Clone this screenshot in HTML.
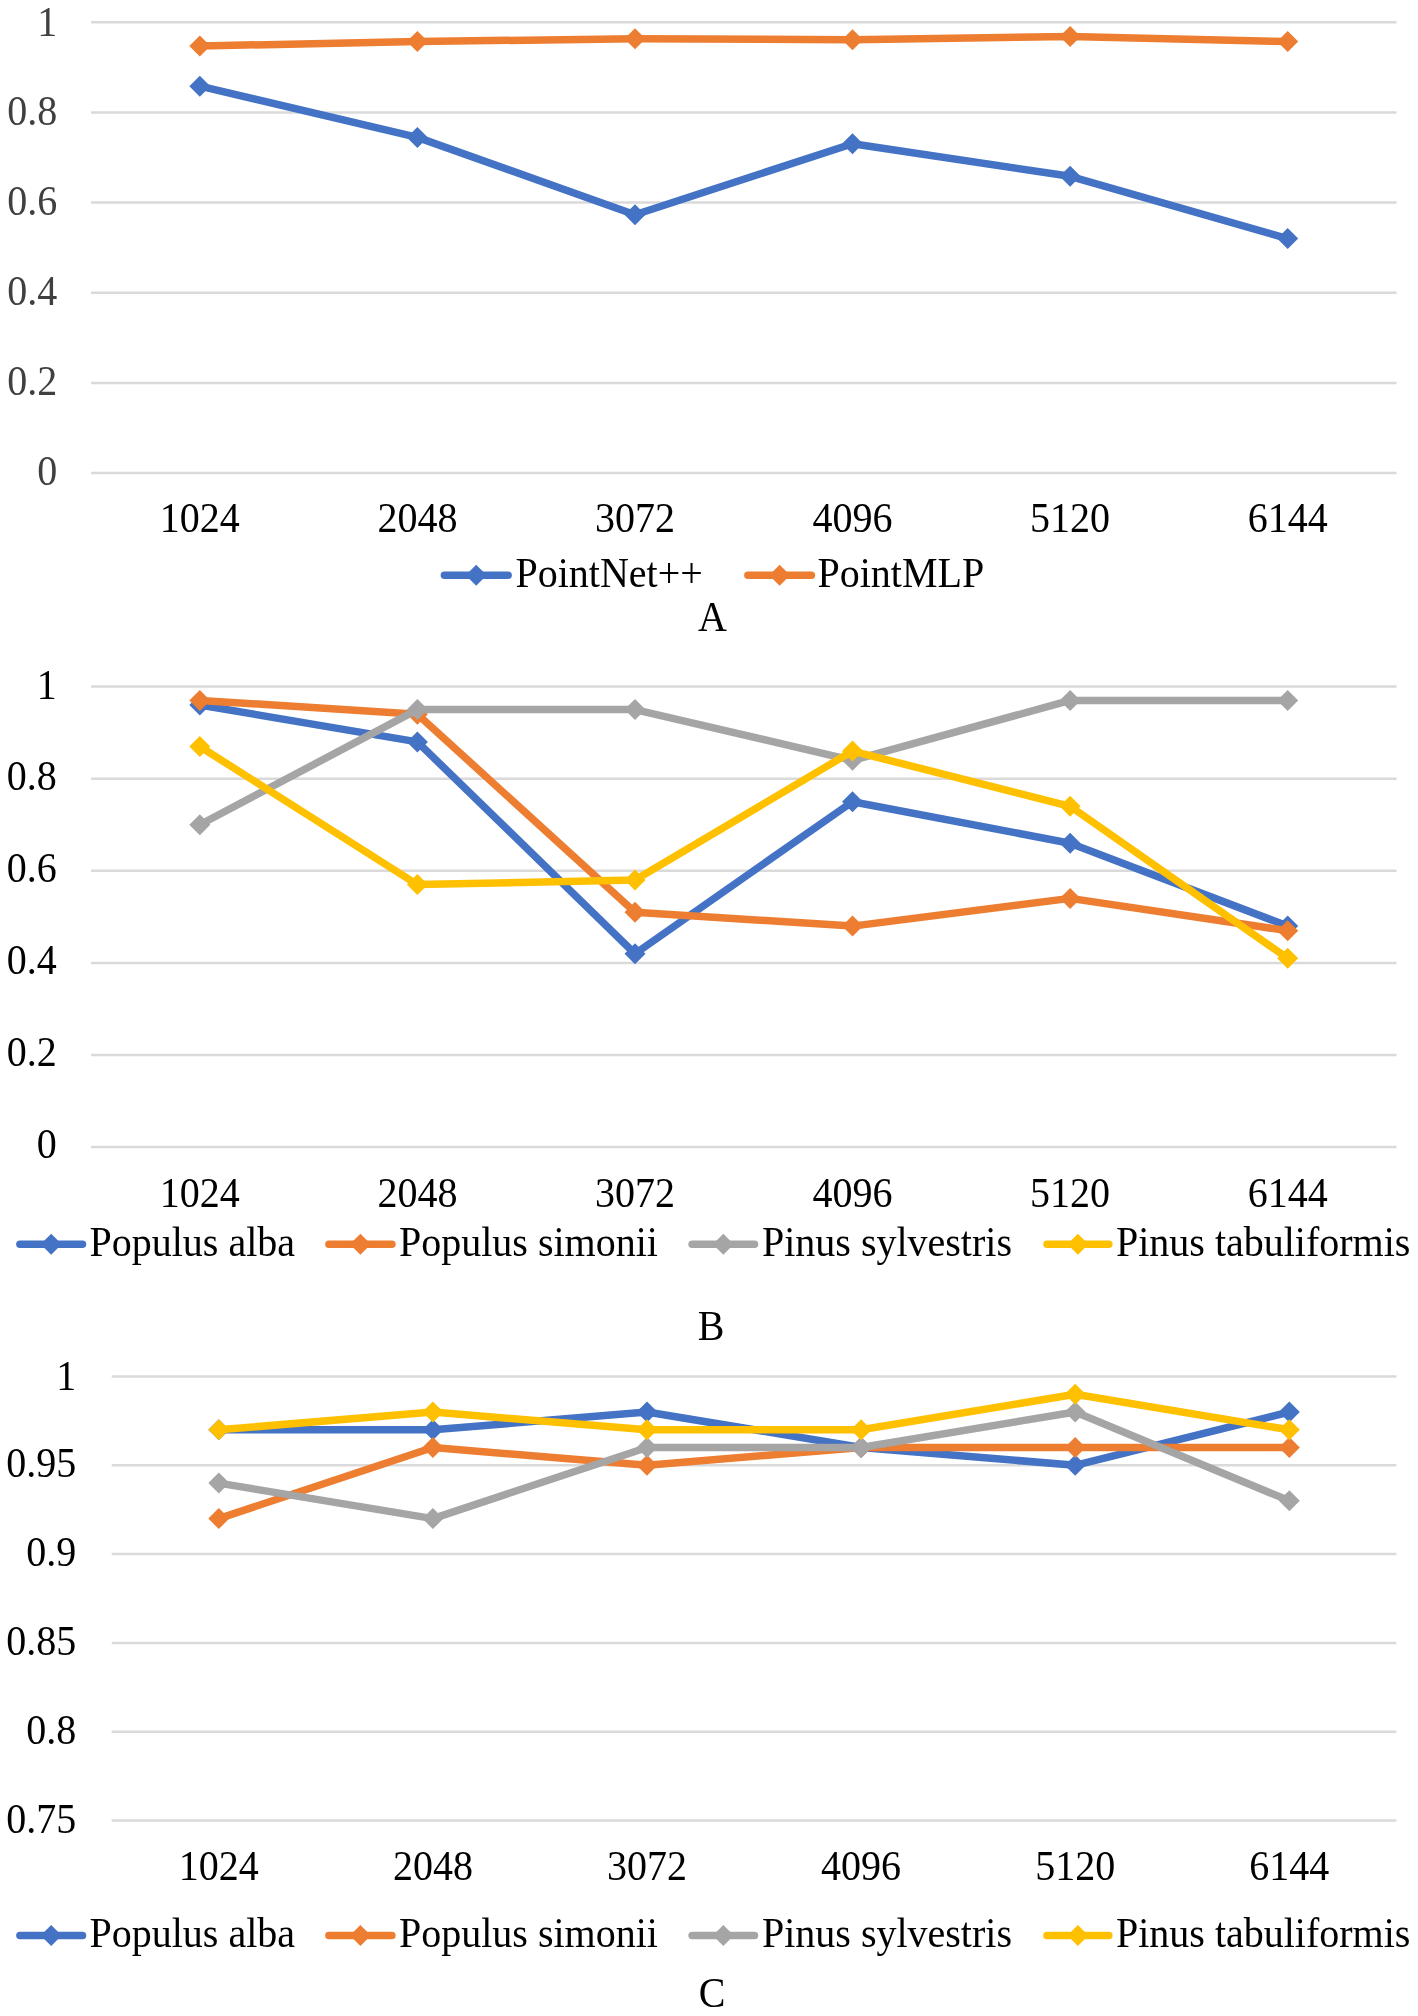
<!DOCTYPE html>
<html><head><meta charset="utf-8"><title>Chart</title>
<style>
html,body{margin:0;padding:0;background:#fff;}
body{width:1418px;height:2016px;overflow:hidden;}
svg{display:block;will-change:transform;}
text{font-family:"Liberation Serif",serif;font-size:40px;fill:#000;}
</style></head><body>
<svg width="1418" height="2016" viewBox="0 0 1418 2016">
<rect width="1418" height="2016" fill="#fff"/>
<line x1="91" y1="22.2" x2="1396.5" y2="22.2" stroke="#DADADA" stroke-width="2.5"/>
<text transform="translate(57.3 36.2) scale(1 1.05)" text-anchor="end" style="fill:#404040">1</text>
<line x1="91" y1="112.4" x2="1396.5" y2="112.4" stroke="#DADADA" stroke-width="2.5"/>
<text transform="translate(57.3 124.6) scale(1 1.05)" text-anchor="end" style="fill:#404040">0.8</text>
<line x1="91" y1="202.6" x2="1396.5" y2="202.6" stroke="#DADADA" stroke-width="2.5"/>
<text transform="translate(57.3 214.8) scale(1 1.05)" text-anchor="end" style="fill:#404040">0.6</text>
<line x1="91" y1="292.7" x2="1396.5" y2="292.7" stroke="#DADADA" stroke-width="2.5"/>
<text transform="translate(57.3 304.9) scale(1 1.05)" text-anchor="end" style="fill:#404040">0.4</text>
<line x1="91" y1="382.9" x2="1396.5" y2="382.9" stroke="#DADADA" stroke-width="2.5"/>
<text transform="translate(57.3 395.1) scale(1 1.05)" text-anchor="end" style="fill:#404040">0.2</text>
<line x1="91" y1="473.1" x2="1396.5" y2="473.1" stroke="#DADADA" stroke-width="2.5"/>
<text transform="translate(57.3 485.3) scale(1 1.05)" text-anchor="end" style="fill:#404040">0</text>
<text transform="translate(199.8 531.5) scale(1 1.05)" text-anchor="middle">1024</text>
<text transform="translate(417.4 531.5) scale(1 1.05)" text-anchor="middle">2048</text>
<text transform="translate(635.0 531.5) scale(1 1.05)" text-anchor="middle">3072</text>
<text transform="translate(852.5 531.5) scale(1 1.05)" text-anchor="middle">4096</text>
<text transform="translate(1070.1 531.5) scale(1 1.05)" text-anchor="middle">5120</text>
<text transform="translate(1287.7 531.5) scale(1 1.05)" text-anchor="middle">6144</text>
<polyline points="199.8,86.2 417.4,137.4 635.0,214.7 852.5,143.8 1070.1,176.3 1287.7,238.6" fill="none" stroke="#4472C4" stroke-width="7.5" stroke-linejoin="round" stroke-linecap="round"/><path d="M199.8 75.7L210.3 86.2L199.8 96.7L189.3 86.2Z" fill="#4472C4"/><path d="M417.4 126.9L427.9 137.4L417.4 147.9L406.9 137.4Z" fill="#4472C4"/><path d="M635.0 204.2L645.5 214.7L635.0 225.2L624.5 214.7Z" fill="#4472C4"/><path d="M852.5 133.3L863.0 143.8L852.5 154.3L842.0 143.8Z" fill="#4472C4"/><path d="M1070.1 165.8L1080.6 176.3L1070.1 186.8L1059.6 176.3Z" fill="#4472C4"/><path d="M1287.7 228.1L1298.2 238.6L1287.7 249.1L1277.2 238.6Z" fill="#4472C4"/>
<polyline points="199.8,46.0 417.4,41.6 635.0,38.7 852.5,39.8 1070.1,36.4 1287.7,41.6" fill="none" stroke="#ED7D31" stroke-width="7.5" stroke-linejoin="round" stroke-linecap="round"/><path d="M199.8 35.5L210.3 46.0L199.8 56.5L189.3 46.0Z" fill="#ED7D31"/><path d="M417.4 31.1L427.9 41.6L417.4 52.1L406.9 41.6Z" fill="#ED7D31"/><path d="M635.0 28.2L645.5 38.7L635.0 49.2L624.5 38.7Z" fill="#ED7D31"/><path d="M852.5 29.3L863.0 39.8L852.5 50.3L842.0 39.8Z" fill="#ED7D31"/><path d="M1070.1 25.9L1080.6 36.4L1070.1 46.9L1059.6 36.4Z" fill="#ED7D31"/><path d="M1287.7 31.1L1298.2 41.6L1287.7 52.1L1277.2 41.6Z" fill="#ED7D31"/>
<line x1="444.4" y1="575.2" x2="508.1" y2="575.2" stroke="#4472C4" stroke-width="7.5" stroke-linecap="round"/><path d="M476.2 564.7L486.7 575.2L476.2 585.7L465.7 575.2Z" fill="#4472C4"/><text transform="translate(515.5 586.8) scale(1 1.05)">PointNet++</text>
<line x1="747.9" y1="575.2" x2="811.4" y2="575.2" stroke="#ED7D31" stroke-width="7.5" stroke-linecap="round"/><path d="M779.6 564.7L790.1 575.2L779.6 585.7L769.1 575.2Z" fill="#ED7D31"/><text transform="translate(817.5 586.8) scale(1 1.05)">PointMLP</text>
<text transform="translate(712.5 630.6) scale(1 1.05)" text-anchor="middle">A</text>
<line x1="91" y1="686.6" x2="1396.5" y2="686.6" stroke="#DADADA" stroke-width="2.5"/>
<text transform="translate(56.8 698.5) scale(1 1.05)" text-anchor="end">1</text>
<line x1="91" y1="778.7" x2="1396.5" y2="778.7" stroke="#DADADA" stroke-width="2.5"/>
<text transform="translate(56.8 790.0) scale(1 1.05)" text-anchor="end">0.8</text>
<line x1="91" y1="870.8" x2="1396.5" y2="870.8" stroke="#DADADA" stroke-width="2.5"/>
<text transform="translate(56.8 882.1) scale(1 1.05)" text-anchor="end">0.6</text>
<line x1="91" y1="962.9" x2="1396.5" y2="962.9" stroke="#DADADA" stroke-width="2.5"/>
<text transform="translate(56.8 974.2) scale(1 1.05)" text-anchor="end">0.4</text>
<line x1="91" y1="1055.0" x2="1396.5" y2="1055.0" stroke="#DADADA" stroke-width="2.5"/>
<text transform="translate(56.8 1066.3) scale(1 1.05)" text-anchor="end">0.2</text>
<line x1="91" y1="1147.1" x2="1396.5" y2="1147.1" stroke="#DADADA" stroke-width="2.5"/>
<text transform="translate(56.8 1158.4) scale(1 1.05)" text-anchor="end">0</text>
<text transform="translate(199.8 1206.5) scale(1 1.05)" text-anchor="middle">1024</text>
<text transform="translate(417.4 1206.5) scale(1 1.05)" text-anchor="middle">2048</text>
<text transform="translate(635.0 1206.5) scale(1 1.05)" text-anchor="middle">3072</text>
<text transform="translate(852.5 1206.5) scale(1 1.05)" text-anchor="middle">4096</text>
<text transform="translate(1070.1 1206.5) scale(1 1.05)" text-anchor="middle">5120</text>
<text transform="translate(1287.7 1206.5) scale(1 1.05)" text-anchor="middle">6144</text>
<polyline points="199.8,705.0 417.4,741.9 635.0,953.7 852.5,801.7 1070.1,843.2 1287.7,926.1" fill="none" stroke="#4472C4" stroke-width="7.5" stroke-linejoin="round" stroke-linecap="round"/><path d="M199.8 694.5L210.3 705.0L199.8 715.5L189.3 705.0Z" fill="#4472C4"/><path d="M417.4 731.4L427.9 741.9L417.4 752.4L406.9 741.9Z" fill="#4472C4"/><path d="M635.0 943.2L645.5 953.7L635.0 964.2L624.5 953.7Z" fill="#4472C4"/><path d="M852.5 791.2L863.0 801.7L852.5 812.2L842.0 801.7Z" fill="#4472C4"/><path d="M1070.1 832.7L1080.6 843.2L1070.1 853.7L1059.6 843.2Z" fill="#4472C4"/><path d="M1287.7 915.6L1298.2 926.1L1287.7 936.6L1277.2 926.1Z" fill="#4472C4"/>
<polyline points="199.8,700.4 417.4,714.2 635.0,912.2 852.5,926.1 1070.1,898.4 1287.7,930.7" fill="none" stroke="#ED7D31" stroke-width="7.5" stroke-linejoin="round" stroke-linecap="round"/><path d="M199.8 689.9L210.3 700.4L199.8 710.9L189.3 700.4Z" fill="#ED7D31"/><path d="M417.4 703.7L427.9 714.2L417.4 724.7L406.9 714.2Z" fill="#ED7D31"/><path d="M635.0 901.7L645.5 912.2L635.0 922.7L624.5 912.2Z" fill="#ED7D31"/><path d="M852.5 915.6L863.0 926.1L852.5 936.6L842.0 926.1Z" fill="#ED7D31"/><path d="M1070.1 887.9L1080.6 898.4L1070.1 908.9L1059.6 898.4Z" fill="#ED7D31"/><path d="M1287.7 920.2L1298.2 930.7L1287.7 941.2L1277.2 930.7Z" fill="#ED7D31"/>
<polyline points="199.8,824.8 417.4,709.6 635.0,709.6 852.5,760.3 1070.1,700.4 1287.7,700.4" fill="none" stroke="#A5A5A5" stroke-width="7.5" stroke-linejoin="round" stroke-linecap="round"/><path d="M199.8 814.2L210.3 824.8L199.8 835.2L189.3 824.8Z" fill="#A5A5A5"/><path d="M417.4 699.1L427.9 709.6L417.4 720.1L406.9 709.6Z" fill="#A5A5A5"/><path d="M635.0 699.1L645.5 709.6L635.0 720.1L624.5 709.6Z" fill="#A5A5A5"/><path d="M852.5 749.8L863.0 760.3L852.5 770.8L842.0 760.3Z" fill="#A5A5A5"/><path d="M1070.1 689.9L1080.6 700.4L1070.1 710.9L1059.6 700.4Z" fill="#A5A5A5"/><path d="M1287.7 689.9L1298.2 700.4L1287.7 710.9L1277.2 700.4Z" fill="#A5A5A5"/>
<polyline points="199.8,746.5 417.4,884.6 635.0,880.0 852.5,751.1 1070.1,806.3 1287.7,958.3" fill="none" stroke="#FFC000" stroke-width="7.5" stroke-linejoin="round" stroke-linecap="round"/><path d="M199.8 736.0L210.3 746.5L199.8 757.0L189.3 746.5Z" fill="#FFC000"/><path d="M417.4 874.1L427.9 884.6L417.4 895.1L406.9 884.6Z" fill="#FFC000"/><path d="M635.0 869.5L645.5 880.0L635.0 890.5L624.5 880.0Z" fill="#FFC000"/><path d="M852.5 740.6L863.0 751.1L852.5 761.6L842.0 751.1Z" fill="#FFC000"/><path d="M1070.1 795.8L1080.6 806.3L1070.1 816.8L1059.6 806.3Z" fill="#FFC000"/><path d="M1287.7 947.8L1298.2 958.3L1287.7 968.8L1277.2 958.3Z" fill="#FFC000"/>
<line x1="19.9" y1="1244.3" x2="82.5" y2="1244.3" stroke="#4472C4" stroke-width="7.5" stroke-linecap="round"/><path d="M51.2 1233.8L61.7 1244.3L51.2 1254.8L40.7 1244.3Z" fill="#4472C4"/><text transform="translate(89.5 1256.3) scale(1 1.05)">Populus alba</text>
<line x1="328.9" y1="1244.3" x2="391.9" y2="1244.3" stroke="#ED7D31" stroke-width="7.5" stroke-linecap="round"/><path d="M360.4 1233.8L370.9 1244.3L360.4 1254.8L349.9 1244.3Z" fill="#ED7D31"/><text transform="translate(399.0 1256.3) scale(1 1.05)">Populus simonii</text>
<line x1="692.1" y1="1244.3" x2="754.5" y2="1244.3" stroke="#A5A5A5" stroke-width="7.5" stroke-linecap="round"/><path d="M723.3 1233.8L733.8 1244.3L723.3 1254.8L712.8 1244.3Z" fill="#A5A5A5"/><text transform="translate(762.0 1256.3) scale(1 1.05)">Pinus sylvestris</text>
<line x1="1047.0" y1="1244.3" x2="1108.8" y2="1244.3" stroke="#FFC000" stroke-width="7.5" stroke-linecap="round"/><path d="M1077.9 1233.8L1088.4 1244.3L1077.9 1254.8L1067.4 1244.3Z" fill="#FFC000"/><text transform="translate(1116.0 1256.3) scale(1 1.05)">Pinus tabuliformis</text>
<text transform="translate(711.0 1339.9) scale(1 1.05)" text-anchor="middle">B</text>
<line x1="111.7" y1="1376.5" x2="1396.4" y2="1376.5" stroke="#DADADA" stroke-width="2.5"/>
<text transform="translate(76.3 1389.7) scale(1 1.05)" text-anchor="end">1</text>
<line x1="111.7" y1="1465.3" x2="1396.4" y2="1465.3" stroke="#DADADA" stroke-width="2.5"/>
<text transform="translate(76.3 1477.3) scale(1 1.05)" text-anchor="end">0.95</text>
<line x1="111.7" y1="1554.1" x2="1396.4" y2="1554.1" stroke="#DADADA" stroke-width="2.5"/>
<text transform="translate(76.3 1566.1) scale(1 1.05)" text-anchor="end">0.9</text>
<line x1="111.7" y1="1642.9" x2="1396.4" y2="1642.9" stroke="#DADADA" stroke-width="2.5"/>
<text transform="translate(76.3 1654.9) scale(1 1.05)" text-anchor="end">0.85</text>
<line x1="111.7" y1="1731.7" x2="1396.4" y2="1731.7" stroke="#DADADA" stroke-width="2.5"/>
<text transform="translate(76.3 1743.7) scale(1 1.05)" text-anchor="end">0.8</text>
<line x1="111.7" y1="1820.5" x2="1396.4" y2="1820.5" stroke="#DADADA" stroke-width="2.5"/>
<text transform="translate(76.3 1832.5) scale(1 1.05)" text-anchor="end">0.75</text>
<text transform="translate(218.8 1880.3) scale(1 1.05)" text-anchor="middle">1024</text>
<text transform="translate(432.9 1880.3) scale(1 1.05)" text-anchor="middle">2048</text>
<text transform="translate(647.0 1880.3) scale(1 1.05)" text-anchor="middle">3072</text>
<text transform="translate(861.1 1880.3) scale(1 1.05)" text-anchor="middle">4096</text>
<text transform="translate(1075.2 1880.3) scale(1 1.05)" text-anchor="middle">5120</text>
<text transform="translate(1289.3 1880.3) scale(1 1.05)" text-anchor="middle">6144</text>
<polyline points="218.8,1429.8 432.9,1429.8 647.0,1412.0 861.1,1447.5 1075.2,1465.3 1289.3,1412.0" fill="none" stroke="#4472C4" stroke-width="7.5" stroke-linejoin="round" stroke-linecap="round"/><path d="M218.8 1419.3L229.3 1429.8L218.8 1440.3L208.3 1429.8Z" fill="#4472C4"/><path d="M432.9 1419.3L443.4 1429.8L432.9 1440.3L422.4 1429.8Z" fill="#4472C4"/><path d="M647.0 1401.5L657.5 1412.0L647.0 1422.5L636.5 1412.0Z" fill="#4472C4"/><path d="M861.1 1437.0L871.6 1447.5L861.1 1458.0L850.6 1447.5Z" fill="#4472C4"/><path d="M1075.2 1454.8L1085.7 1465.3L1075.2 1475.8L1064.7 1465.3Z" fill="#4472C4"/><path d="M1289.3 1401.5L1299.8 1412.0L1289.3 1422.5L1278.8 1412.0Z" fill="#4472C4"/>
<polyline points="218.8,1518.6 432.9,1447.5 647.0,1465.3 861.1,1447.5 1075.2,1447.5 1289.3,1447.5" fill="none" stroke="#ED7D31" stroke-width="7.5" stroke-linejoin="round" stroke-linecap="round"/><path d="M218.8 1508.1L229.3 1518.6L218.8 1529.1L208.3 1518.6Z" fill="#ED7D31"/><path d="M432.9 1437.0L443.4 1447.5L432.9 1458.0L422.4 1447.5Z" fill="#ED7D31"/><path d="M647.0 1454.8L657.5 1465.3L647.0 1475.8L636.5 1465.3Z" fill="#ED7D31"/><path d="M861.1 1437.0L871.6 1447.5L861.1 1458.0L850.6 1447.5Z" fill="#ED7D31"/><path d="M1075.2 1437.0L1085.7 1447.5L1075.2 1458.0L1064.7 1447.5Z" fill="#ED7D31"/><path d="M1289.3 1437.0L1299.8 1447.5L1289.3 1458.0L1278.8 1447.5Z" fill="#ED7D31"/>
<polyline points="218.8,1483.1 432.9,1518.6 647.0,1447.5 861.1,1447.5 1075.2,1412.0 1289.3,1500.8" fill="none" stroke="#A5A5A5" stroke-width="7.5" stroke-linejoin="round" stroke-linecap="round"/><path d="M218.8 1472.6L229.3 1483.1L218.8 1493.6L208.3 1483.1Z" fill="#A5A5A5"/><path d="M432.9 1508.1L443.4 1518.6L432.9 1529.1L422.4 1518.6Z" fill="#A5A5A5"/><path d="M647.0 1437.0L657.5 1447.5L647.0 1458.0L636.5 1447.5Z" fill="#A5A5A5"/><path d="M861.1 1437.0L871.6 1447.5L861.1 1458.0L850.6 1447.5Z" fill="#A5A5A5"/><path d="M1075.2 1401.5L1085.7 1412.0L1075.2 1422.5L1064.7 1412.0Z" fill="#A5A5A5"/><path d="M1289.3 1490.3L1299.8 1500.8L1289.3 1511.3L1278.8 1500.8Z" fill="#A5A5A5"/>
<polyline points="218.8,1429.8 432.9,1412.0 647.0,1429.8 861.1,1429.8 1075.2,1394.3 1289.3,1429.8" fill="none" stroke="#FFC000" stroke-width="7.5" stroke-linejoin="round" stroke-linecap="round"/><path d="M218.8 1419.3L229.3 1429.8L218.8 1440.3L208.3 1429.8Z" fill="#FFC000"/><path d="M432.9 1401.5L443.4 1412.0L432.9 1422.5L422.4 1412.0Z" fill="#FFC000"/><path d="M647.0 1419.3L657.5 1429.8L647.0 1440.3L636.5 1429.8Z" fill="#FFC000"/><path d="M861.1 1419.3L871.6 1429.8L861.1 1440.3L850.6 1429.8Z" fill="#FFC000"/><path d="M1075.2 1383.8L1085.7 1394.3L1075.2 1404.8L1064.7 1394.3Z" fill="#FFC000"/><path d="M1289.3 1419.3L1299.8 1429.8L1289.3 1440.3L1278.8 1429.8Z" fill="#FFC000"/>
<line x1="19.9" y1="1935.6" x2="82.5" y2="1935.6" stroke="#4472C4" stroke-width="7.5" stroke-linecap="round"/><path d="M51.2 1925.1L61.7 1935.6L51.2 1946.1L40.7 1935.6Z" fill="#4472C4"/><text transform="translate(89.5 1946.8) scale(1 1.05)">Populus alba</text>
<line x1="328.9" y1="1935.6" x2="391.9" y2="1935.6" stroke="#ED7D31" stroke-width="7.5" stroke-linecap="round"/><path d="M360.4 1925.1L370.9 1935.6L360.4 1946.1L349.9 1935.6Z" fill="#ED7D31"/><text transform="translate(399.0 1946.8) scale(1 1.05)">Populus simonii</text>
<line x1="692.1" y1="1935.6" x2="754.5" y2="1935.6" stroke="#A5A5A5" stroke-width="7.5" stroke-linecap="round"/><path d="M723.3 1925.1L733.8 1935.6L723.3 1946.1L712.8 1935.6Z" fill="#A5A5A5"/><text transform="translate(762.0 1946.8) scale(1 1.05)">Pinus sylvestris</text>
<line x1="1047.0" y1="1935.6" x2="1108.8" y2="1935.6" stroke="#FFC000" stroke-width="7.5" stroke-linecap="round"/><path d="M1077.9 1925.1L1088.4 1935.6L1077.9 1946.1L1067.4 1935.6Z" fill="#FFC000"/><text transform="translate(1116.0 1946.8) scale(1 1.05)">Pinus tabuliformis</text>
<text transform="translate(712.0 2007.0) scale(1 1.05)" text-anchor="middle">C</text>
</svg>
</body></html>
